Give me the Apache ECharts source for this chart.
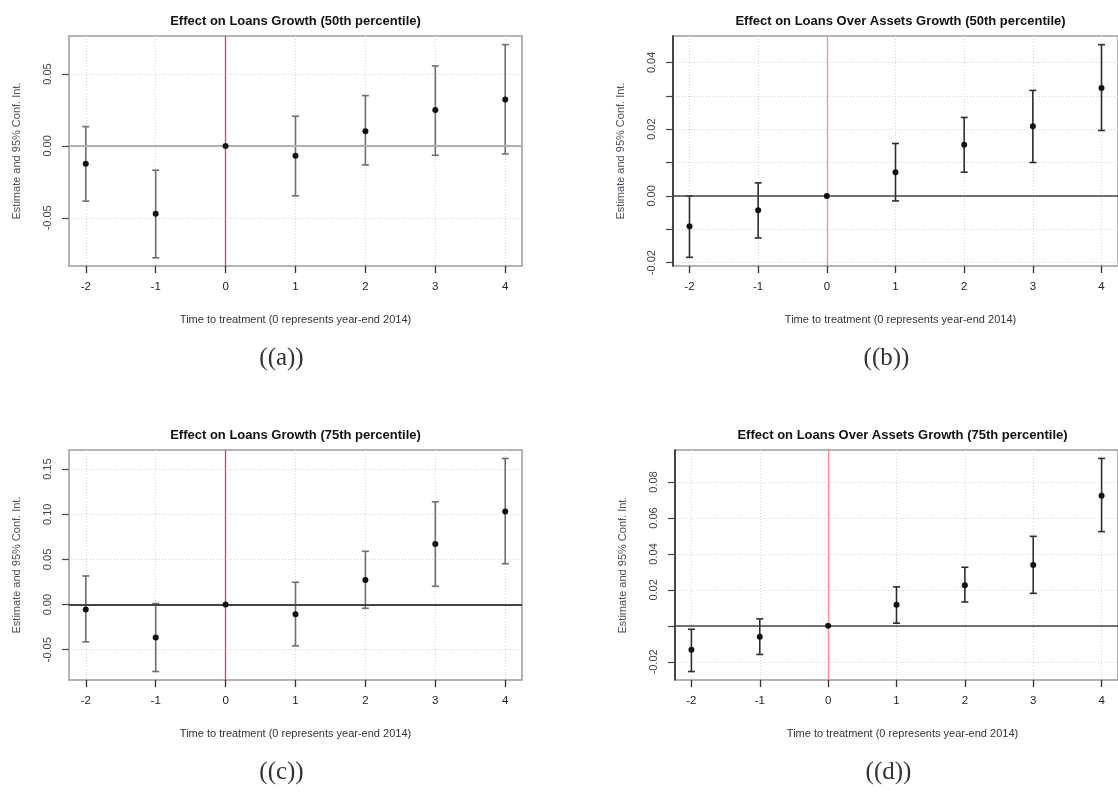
<!DOCTYPE html>
<html>
<head>
<meta charset="utf-8">
<script src="https://cdn.jsdelivr.net/npm/echarts@6/dist/echarts.min.js"></script>
<style>
html,body{margin:0;padding:0;background:#fff;}
#c{width:1118px;height:796px;}
</style>
</head>
<body>
<div id="c"></div>
<script>
// ---- data ----
const periods = [-2, -1, 0, 1, 2, 3, 4];

// (a) Loans growth, 50th percentile
const estA = [-0.0125, -0.0472, 0, -0.0069, 0.0102, 0.0250, 0.0322];
const loA  = [-0.0384, -0.0778, 0, -0.0347, -0.0132, -0.0065, -0.0056];
const hiA  = [0.0134, -0.0169, 0, 0.0206, 0.0350, 0.0556, 0.0704];

// (b) Loans over assets growth, 50th percentile
const estB = [-0.0091, -0.0043, 0, 0.0071, 0.0153, 0.0209, 0.0323];
const loB  = [-0.0184, -0.0126, 0, -0.0015, 0.0071, 0.0100, 0.0196];
const hiB  = [0.0000, 0.0039, 0, 0.0157, 0.0235, 0.0316, 0.0453];

// (c) Loans growth, 75th percentile
const estC = [-0.0055, -0.0365, 0, -0.0107, 0.0273, 0.0671, 0.1032];
const loC  = [-0.0413, -0.0741, 0, -0.0457, -0.0041, 0.0203, 0.0453];
const hiC  = [0.0317, 0.0011, 0, 0.0247, 0.0590, 0.1139, 0.1618];

// (d) Loans over assets growth, 75th percentile
const estD = [-0.0133, -0.0061, 0, 0.0117, 0.0226, 0.0339, 0.0724];
const loD  = [-0.0254, -0.0159, 0, 0.0015, 0.0133, 0.0181, 0.0524];
const hiD  = [-0.0019, 0.0039, 0, 0.0217, 0.0326, 0.0498, 0.0931];

// axis ticks / labels
const yTicksA = [-0.05, 0, 0.05];
const yLabelsA = [-0.05, 0, 0.05];
const yTicksB = [-0.02, -0.01, 0, 0.01, 0.02, 0.03, 0.04];
const yLabelsB = [-0.02, 0, 0.02, 0.04];
const yTicksC = [-0.05, 0, 0.05, 0.10, 0.15];
const yLabelsC = [-0.05, 0, 0.05, 0.10, 0.15];
const yTicksD = [-0.02, 0, 0.02, 0.04, 0.06, 0.08];
const yLabelsD = [-0.02, 0.02, 0.04, 0.06, 0.08];

const titles = [
  'Effect on Loans Growth (50th percentile)',
  'Effect on Loans Over Assets Growth (50th percentile)',
  'Effect on Loans Growth (75th percentile)',
  'Effect on Loans Over Assets Growth (75th percentile)'
];
const captions = ['((a))', '((b))', '((c))', '((d))'];
const xTitle = 'Time to treatment (0 represents year-end 2014)';
const yTitle = 'Estimate and 95% Conf. Int.';

// ---- layout / style (not data) ----
const FONT = 'Liberation Sans, Arial, sans-serif';
const panels = [
  {est: estA, lo: loA, hi: hiA, yT: yTicksA, yL: yLabelsA,
   left: 69, top: 36, width: 453, height: 230, ymin: -0.0835, ymax: 0.0764,
   leftAxis: false, zeroColor: '#b0b0b0', zeroWidth: 2, redColor: '#d9404f', barColor: '#6e6e6e'},
  {est: estB, lo: loB, hi: hiB, yT: yTicksB, yL: yLabelsB,
   left: 673, top: 36, width: 455, height: 230, ymin: -0.0210, ymax: 0.0479,
   leftAxis: true, zeroColor: '#444', zeroWidth: 1.5, redColor: '#ff8a9a', barColor: '#2e2e2e'},
  {est: estC, lo: loC, hi: hiC, yT: yTicksC, yL: yLabelsC,
   left: 69, top: 450, width: 453, height: 230, ymin: -0.0835, ymax: 0.1712,
   leftAxis: false, zeroColor: '#444', zeroWidth: 1.8, redColor: '#d9404f', barColor: '#6e6e6e'},
  {est: estD, lo: loD, hi: hiD, yT: yTicksD, yL: yLabelsD,
   left: 675, top: 450, width: 455, height: 230, ymin: -0.0301, ymax: 0.0978,
   leftAxis: true, zeroColor: '#444', zeroWidth: 1.5, redColor: '#ff8a9a', barColor: '#2e2e2e'}
];

const grid = [], xAxis = [], yAxis = [], series = [], graphic = [];

panels.forEach((p, i) => {
  grid.push({
    left: p.left, top: p.top, width: p.width, height: p.height,
    show: true, borderColor: '#9c9c9c', borderWidth: 1.5, backgroundColor: 'transparent'
  });
  xAxis.push({
    gridIndex: i, type: 'value', min: -2.24, max: 4.24, position: 'bottom',
    axisLine: {show: false, onZero: false},
    axisTick: {show: true, length: 7, customValues: periods, lineStyle: {color: '#333', width: 1.3}},
    axisLabel: {customValues: periods, margin: 15, fontSize: 11.5, color: '#222', fontFamily: FONT,
      formatter: v => String(Math.round(v))},
    splitLine: {show: true, lineStyle: {color: '#d4d4d4', type: [1, 2], width: 1}}
  });
  yAxis.push({
    gridIndex: i, type: 'value', min: p.ymin, max: p.ymax, position: 'left',
    axisLine: {show: p.leftAxis, onZero: false, lineStyle: {color: '#222', width: 1.5}},
    axisTick: {show: true, length: 7, customValues: p.yT, lineStyle: {color: '#444', width: 1.2}},
    axisLabel: {customValues: p.yL, rotate: 90, margin: 16, fontSize: 11, color: '#444', fontFamily: FONT,
      formatter: v => v.toFixed(2), hideOverlap: false},
    splitLine: {show: true, lineStyle: {color: '#d4d4d4', type: [1, 2], width: 1}}
  });
  // reference lines (zero line and treatment line)
  series.push({
    type: 'line', xAxisIndex: i, yAxisIndex: i, silent: true, animation: false, z: 2,
    data: [], symbol: 'none',
    markLine: {
      silent: true, symbol: 'none', animation: false, label: {show: false},
      data: [
        {yAxis: 0, lineStyle: {color: p.zeroColor, width: p.zeroWidth, type: 'solid'}},
        {xAxis: 0, lineStyle: {color: p.redColor, width: 1.3, type: 'solid'}}
      ]
    }
  });
  series.push({
    type: 'custom', xAxisIndex: i, yAxisIndex: i, silent: true, animation: false, z: 3,
    data: periods.map((x, k) => [x, p.lo[k], p.hi[k]]),
    renderItem: (params, api) => {
      const x = api.value(0), lo = api.value(1), hi = api.value(2);
      if (lo === hi) return null;
      const a = api.coord([x, lo]), b = api.coord([x, hi]);
      const w = 3.5, st = {stroke: p.barColor, lineWidth: 1.6};
      return {type: 'group', children: [
        {type: 'line', shape: {x1: a[0], y1: a[1], x2: b[0], y2: b[1]}, style: st},
        {type: 'line', shape: {x1: a[0] - w, y1: a[1], x2: a[0] + w, y2: a[1]}, style: st},
        {type: 'line', shape: {x1: b[0] - w, y1: b[1], x2: b[0] + w, y2: b[1]}, style: st}
      ]};
    }
  });
  series.push({
    type: 'scatter', xAxisIndex: i, yAxisIndex: i, silent: true, animation: false, z: 5,
    symbol: 'circle', symbolSize: 6, itemStyle: {color: '#111', opacity: 1},
    data: periods.map((x, k) => [x, p.est[k]])
  });
  const cx = p.left + p.width / 2;
  graphic.push({type: 'text', x: cx, y: p.top - 15,
    style: {text: titles[i], font: 'bold 13px ' + FONT, fill: '#111', align: 'center', verticalAlign: 'middle'}});
  graphic.push({type: 'text', x: cx, y: p.top + p.height + 54,
    style: {text: xTitle, font: '11px ' + FONT, fill: '#333', align: 'center', verticalAlign: 'middle'}});
  graphic.push({type: 'text', x: p.left - 52, y: p.top + p.height / 2, rotation: Math.PI / 2,
    style: {text: yTitle, font: '11px ' + FONT, fill: '#4a4f5a', align: 'center', verticalAlign: 'middle'}});
  graphic.push({type: 'text', x: cx - 14, y: p.top + p.height + 92,
    style: {text: captions[i], font: '25px "Liberation Serif", serif', fill: '#333', align: 'center', verticalAlign: 'middle'}});
});

const chart = echarts.init(document.getElementById('c'), null, {renderer: 'canvas'});
chart.setOption({
  backgroundColor: '#fff',
  animation: false,
  grid, xAxis, yAxis, series, graphic
});
</script>
</body>
</html>
